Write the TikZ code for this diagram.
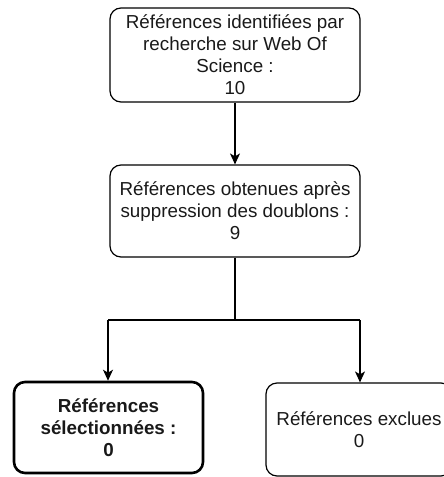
\documentclass[tikz,border=0pt]{standalone}
\usepackage{fontspec}
\setmainfont{Liberation Sans}
\usetikzlibrary{arrows.meta,calc}
\begin{document}
\begin{tikzpicture}[x=1pt,y=-1pt,
  box/.style={draw=black,line width=1.2pt,rounded corners=11pt,align=center,inner sep=0pt,
    font=\fontsize{18.8}{22}\selectfont,text=black!90},
  arr/.style={line width=1.3pt,-{Stealth[length=11pt,width=10pt,inset=3pt]}},
  lnk/.style={line width=1.3pt}]
\useasboundingbox (0,0) rectangle (444,477);
\node[box,minimum width=250pt,minimum height=94pt] (b1) at (235,55)
  {Références identifiées par\\recherche sur Web Of\\Science :\\10};
\node[box,minimum width=250pt,minimum height=92pt] (b2) at (235,211)
  {Références obtenues après\\suppression des doublons :\\9};
\node[box,line width=2.6pt,minimum width=189pt,minimum height=91pt,font=\fontsize{18.8}{22}\selectfont\bfseries] (b3) at (108.5,427.5)
  {Références\\sélectionnées :\\0};
\node[box,minimum width=186pt,minimum height=93pt] (b4) at (359,429.5)
  {Références exclues\\0};
\coordinate (j) at ($(b2.south)+(0,63)$);
\coordinate (jl) at (108,320);
\coordinate (jr) at (360,320);
\draw[arr] (b1.south) -- (b2.north);
\draw[lnk] (b2.south) -- (j);
\draw[lnk] (jl) -- (jr);
\draw[arr] (jl) -- (jl |- b3.north);
\draw[arr] (jr) -- (jr |- b4.north);
\end{tikzpicture}
\end{document}
